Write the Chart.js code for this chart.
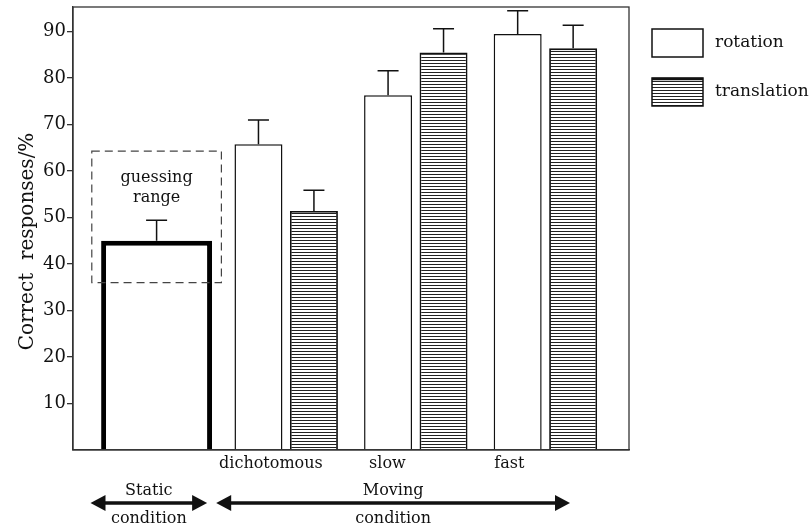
<!DOCTYPE html>
<html><head><meta charset="utf-8">
<script src="https://cdn.jsdelivr.net/npm/chart.js@4/dist/chart.umd.min.js"></script>
<style>html,body{margin:0;padding:0;background:#fff}#wrap{width:812px;height:529px}</style>
</head><body><div id="wrap"><canvas id="c" width="812" height="529"></canvas></div>
<script>
// ---- data ----
const categories = ['', 'dichotomous', 'slow', 'fast'];
const categoryIndex = [0, 1, 2, 3];
const staticValues = [45, null, null, null];
const rotationValues = [null, 65.8, 76.3, 89.5];
const translationValues = [null, 51.4, 85.5, 86.4];
const staticErrors = [4.4, null, null, null];
const rotationErrors = [null, 5.2, 5.3, 5.0];
const translationErrors = [null, 4.5, 5.1, 5.0];
const yTickLabels = [10, 20, 30, 40, 50, 60, 70, 80, 90];
const yTitle = 'Correct  responses/%';
const seriesNames = ['rotation', 'translation'];
const guessingRange = [36, 64.3];
const guessingText = ['guessing', 'range'];
const groupNames = [['Static', 'condition'], ['Moving', 'condition']];
// layout (in category units), not data
const categoryLabelPos = [0.882, 1.781, 2.722];
const groupSpans = [[-0.51, 0.39], [0.46, 3.19]];

const SERIF = '"DejaVu Serif", serif';
const INK = '#111';
const canvas = document.getElementById('c');
const ctx = canvas.getContext('2d');

function stripePattern() {
  const p = document.createElement('canvas');
  p.width = 4; p.height = 3;
  const g = p.getContext('2d');
  g.fillStyle = '#fff'; g.fillRect(0, 0, 4, 3);
  g.fillStyle = '#222'; g.fillRect(0, 0, 4, 1);
  return ctx.createPattern(p, 'repeat');
}
const stripes = stripePattern();

const frame = {
  id: 'frame',
  afterDraw(chart) {
    const a = chart.chartArea, c = chart.ctx;
    c.save();
    c.strokeStyle = '#333'; c.lineWidth = 1.3;
    c.strokeRect(a.left, a.top, a.right - a.left, a.bottom - a.top);
    c.fillStyle = INK; c.font = '20px ' + SERIF;
    c.textAlign = 'center'; c.textBaseline = 'middle';
    c.translate(28, (a.top + a.bottom) / 2 + 13);
    c.rotate(-Math.PI / 2);
    c.fillText(yTitle, 0, 0);
    c.restore();
  }
};

const errorBars = {
  id: 'errorBars',
  afterDatasetsDraw(chart) {
    const c = chart.ctx, y = chart.scales.y;
    c.save();
    c.strokeStyle = INK; c.lineWidth = 1.5;
    chart.data.datasets.forEach((ds, i) => {
      const meta = chart.getDatasetMeta(i);
      meta.data.forEach((el, j) => {
        const v = ds.data[j], e = ds.errors[j];
        if (v == null || e == null) return;
        const yt = y.getPixelForValue(v + e);
        c.beginPath();
        c.moveTo(el.x, el.y); c.lineTo(el.x, yt);
        c.moveTo(el.x - 10.5, yt); c.lineTo(el.x + 10.5, yt);
        c.stroke();
      });
    });
    c.restore();
  }
};

const guessing = {
  id: 'guessing',
  afterDatasetsDraw(chart) {
    const c = chart.ctx, x = chart.scales.x, y = chart.scales.y;
    const l = x.getPixelForValue(-0.5), r = x.getPixelForValue(0.5);
    const t = y.getPixelForValue(guessingRange[1]), b = y.getPixelForValue(guessingRange[0]);
    c.save();
    c.setLineDash([8, 5]);
    c.strokeStyle = '#444'; c.lineWidth = 1.2;
    c.strokeRect(l, t, r - l, b - t);
    c.setLineDash([]);
    c.fillStyle = INK; c.font = '16px ' + SERIF;
    c.textAlign = 'center'; c.textBaseline = 'alphabetic';
    const cx = x.getPixelForValue(0);
    c.fillText(guessingText[0], cx, t + 31);
    c.fillText(guessingText[1], cx, t + 51);
    c.restore();
  }
};

const groups = {
  id: 'groups',
  afterDraw(chart) {
    const c = chart.ctx, x = chart.scales.x;
    const ya = 503;
    c.save();
    c.fillStyle = INK; c.strokeStyle = INK;
    groupSpans.forEach((s, k) => {
      const x0 = x.getPixelForValue(s[0]), x1 = x.getPixelForValue(s[1]);
      c.lineWidth = 3.5;
      c.beginPath(); c.moveTo(x0 + 10, ya); c.lineTo(x1 - 10, ya); c.stroke();
      c.beginPath(); c.moveTo(x0, ya); c.lineTo(x0 + 15, ya - 8); c.lineTo(x0 + 15, ya + 8); c.closePath(); c.fill();
      c.beginPath(); c.moveTo(x1, ya); c.lineTo(x1 - 15, ya - 8); c.lineTo(x1 - 15, ya + 8); c.closePath(); c.fill();
      const cx = (x0 + x1) / 2;
      c.font = '16px ' + SERIF; c.textAlign = 'center'; c.textBaseline = 'alphabetic';
      c.fillText(groupNames[k][0], cx, ya - 8);
      c.fillText(groupNames[k][1], cx, ya + 20);
    });
    c.restore();
  }
};

const legendBoxes = {
  id: 'legendBoxes',
  afterDraw(chart) {
    const c = chart.ctx, a = chart.chartArea;
    const fills = [ '#fff', stripes ];
    c.save();
    seriesNames.forEach((name, k) => {
      const bx = a.right + 23, by = 29 + k * 49, bw = 51, bh = 28;
      c.fillStyle = fills[k]; c.fillRect(bx, by, bw, bh);
      c.strokeStyle = INK; c.lineWidth = 1.5; c.strokeRect(bx, by, bw, bh);
      if (k === 1) { c.lineWidth = 2.5; c.beginPath(); c.moveTo(bx, by + 1); c.lineTo(bx + bw, by + 1); c.stroke(); }
      c.fillStyle = INK; c.font = '17px ' + SERIF; c.textAlign = 'left'; c.textBaseline = 'middle';
      c.fillText(name, bx + bw + 12, by + bh / 2);
    });
    c.restore();
  }
};

new Chart(ctx, {
  type: 'bar',
  data: {
    labels: categoryIndex,
    datasets: [
      { label: 'static', data: staticValues, errors: staticErrors, backgroundColor: '#fff', borderColor: '#000', borderWidth: 5, barPercentage: 1, categoryPercentage: 0.856 },
      { label: seriesNames[0], data: rotationValues, errors: rotationErrors, backgroundColor: '#fff', borderColor: INK, borderWidth: 1.5, barPercentage: 0.865, categoryPercentage: 0.856 },
      { label: seriesNames[1], data: translationValues, errors: translationErrors, backgroundColor: stripes, borderColor: INK, borderWidth: 1.8, barPercentage: 0.865, categoryPercentage: 0.856 }
    ]
  },
  options: {
    responsive: false, animation: false,
    datasets: { bar: { skipNull: true } },
    layout: { padding: { top: 7, right: 183, left: 0, bottom: 0 } },
    plugins: { legend: { display: false }, tooltip: { enabled: false } },
    scales: {
      x: {
        type: 'linear', min: -0.645, max: 3.645, offset: false,
        grid: { display: false, drawTicks: false },
        border: { display: true, color: '#333', width: 1.3 },
        ticks: { display: false, stepSize: 1, includeBounds: false },
        afterFit: s => { s.height = 0; s.paddingLeft = 0; s.paddingRight = 0; }
      },
      xLabels: {
        type: 'linear', position: 'bottom', axis: 'x', min: -0.645, max: 3.645, offset: false,
        grid: { display: false, drawTicks: false },
        border: { display: false },
        ticks: { autoSkip: false, maxRotation: 0, padding: 4, color: INK,
          font: { family: SERIF, size: 16 },
          callback: (v, i) => categories[i + 1] },
        afterBuildTicks: s => { s.ticks = categoryLabelPos.map(v => ({ value: v })); },
        afterFit: s => { s.height = 79; s.paddingLeft = 0; s.paddingRight = 0; }
      },
      y: {
        min: 0, max: 95.3,
        grid: { display: true, drawOnChartArea: false, drawTicks: true, tickLength: 6, lineWidth: 1.3,
          tickColor: c => (c.tick && yTickLabels.includes(c.tick.value)) ? '#333' : 'rgba(0,0,0,0)' },
        border: { display: true, color: '#333', width: 1.3 },
        ticks: { stepSize: 10, includeBounds: false, padding: 1, color: INK,
          font: { family: SERIF, size: 18 },
          callback: v => yTickLabels.includes(v) ? String(v) : '' },
        title: { display: false },
        afterFit: s => { s.width = 73; s.paddingTop = 0; s.paddingBottom = 0; }
      }
    }
  },
  plugins: [frame, errorBars, guessing, groups, legendBoxes]
});
</script>
</body></html>
